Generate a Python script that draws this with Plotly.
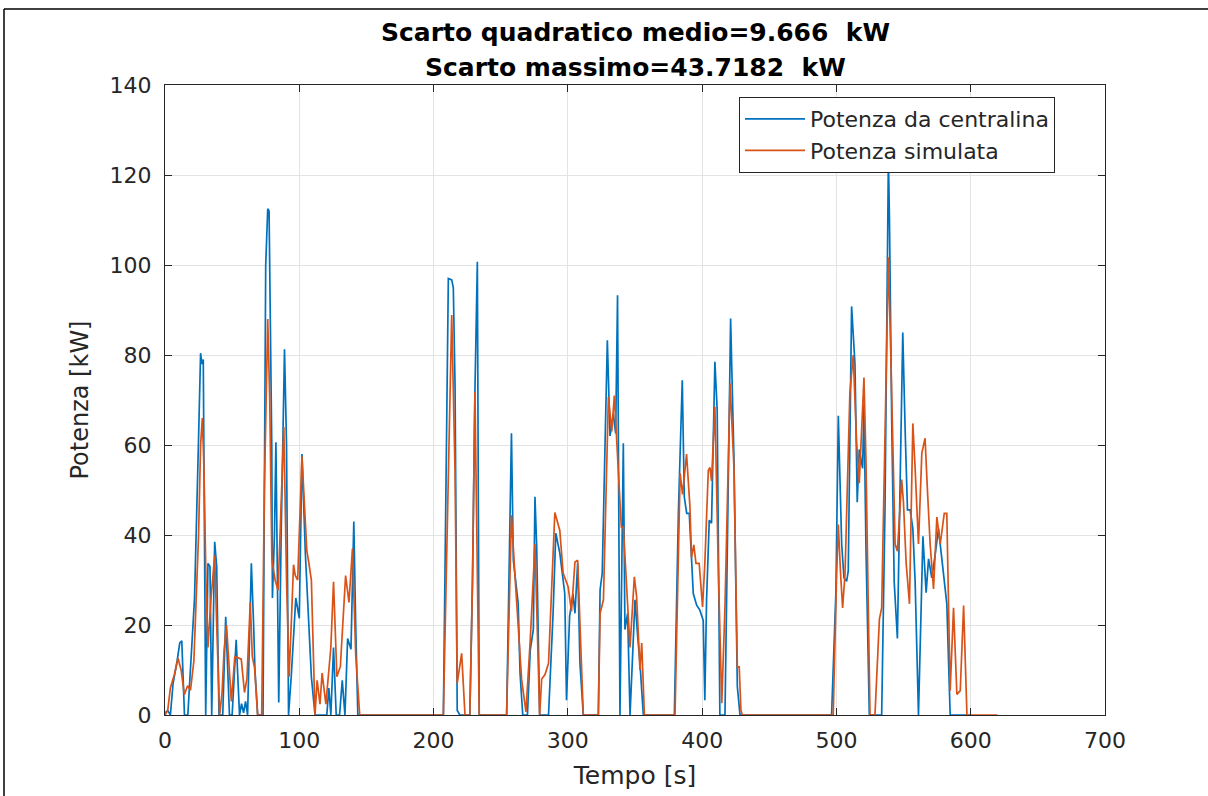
import plotly.graph_objects as go

# Potenza da centralina (blue) - time [s], power [kW]
t_centralina = [0, 2, 4, 6, 9, 11, 12.5, 14.5, 17, 22, 25, 26.5, 27.5, 28.5, 30.3, 32, 33.5, 34.8, 37, 38.5,
                40.2, 43, 45.2, 48, 50, 53, 55.5, 57, 58.5, 60, 61.5, 64.3, 66, 67, 69, 73, 75, 76.5, 77.5, 79.5,
                80, 81.5, 82.6, 84.7, 86.5, 89, 90.5, 92, 94, 96, 97.4, 100, 102, 104.5, 107, 109, 111.7, 120.5,
                122, 123.5, 125.5, 127.5, 130, 132, 134, 136, 138.5, 140.6, 142, 143.6, 207.3, 209.5, 211, 213.5,
                214.7, 216, 217.6, 219.6, 227, 229, 230.8, 232.6, 234, 254.4, 256.9, 258, 259.4, 263, 264.4, 266.4,
                269.9, 272, 274.3, 275.5, 276.8, 279, 285.6, 289, 291, 294, 297.7, 299, 301.3, 303.8, 305.3, 307.3,
                309, 311.5, 322.7, 324, 325.6, 329.4, 331.4, 333.8, 335.6, 337, 338.8, 341.3, 342.5, 344.5, 346.3,
                348.7, 350, 352, 353.7, 356.2, 379.3, 382.3, 385.2, 386.7, 388.5, 390.4, 393.4, 395.9, 398.3, 400.8,
                402, 403.3, 405.3, 407, 409.5, 411.2, 413.2, 417, 421.2, 423.7, 426.2, 428.2, 496.4, 499.6, 501.4,
                503.9, 505.6, 507.6, 508.8, 511.3, 512.5, 513.8, 515.5, 517, 519.5, 520.5, 522, 524.5, 533.7, 536.2,
                538.7, 539.5, 541.2, 543, 545.4, 547.4, 549.4, 551.2, 552.9, 554.9, 556.9, 558.6, 561.1, 564.4,
                566.8, 568.6, 571, 573.5, 576, 578.5, 582.2, 584.7, 600]
p_centralina = [0.5, 1, 0, 7, 12, 16, 16.5, 0, 0, 26, 61.5, 80.4, 78, 79, 0, 33.7, 33, 0, 38.5, 33,
                0, 0, 21.8, 0, 0, 16.7, 0, 2.5, 0.5, 3, 0, 33.7, 20, 10, 0, 0, 100, 112.5, 112, 60,
                26, 40, 60.6, 2.8, 40, 81.3, 60, 0, 8.5, 20, 26, 21.5, 58, 36, 22.3, 8.5, 0, 0,
                6, 0, 15, 0, 0, 7.7, 0, 17, 14.6, 43, 20, 0, 0, 60, 97, 96.7,
                95, 73, 1, 0, 0, 30, 72, 100.7, 0, 0, 39, 62.6, 34.4, 24.8, 9.3, 0,
                0, 14.4, 19, 48.5, 37.4, 0, 0, 22.6, 40.4, 36, 27, 3.3, 21.9, 27, 22.6, 33.7,
                11.5, 0, 0, 27.8, 31.5, 83.3, 62, 67, 62.6, 93.3, 0, 60.4, 19, 22.6, 0,
                18, 25.6, 17.4, 11.5, 0, 0, 44.8, 74.4, 48.5, 44.8, 44.8, 27, 24.4, 23.3, 21,
                3.3, 25.6, 43.3, 42.6, 78.5, 67.8, 0, 0, 88.1, 56.7, 6.3, 0, 0, 27.2, 66.5,
                38, 30.5, 29.7, 32, 90.8, 83.3, 78, 47.3, 59, 54.8, 69, 37.2, 0, 0, 46.4,
                124, 110, 64.8, 29.7, 17, 49.8, 85, 63, 45.6, 45.6, 41.4, 29.7, 0, 39.7,
                27.2, 34.7, 30.5, 35.5, 41.4, 34.7, 24.7, 0, 0]

# Potenza simulata (orange) - time [s], power [kW]
t_simulata = [0, 2, 4, 7, 9.7, 12, 14.4, 16.8, 19, 21.5, 25, 26.5, 27.8, 29, 30.5, 32, 34, 37, 38.5, 40.7,
              42.5, 44, 45.8, 47.5, 49.4, 52, 56.8, 59.2, 61, 63.5, 65, 66.7, 69, 72, 74, 76.5, 78, 79.6, 82,
              84.2, 86.5, 88.5, 90.5, 92.4, 94, 95.7, 97, 98.8, 102, 104, 105.6, 107, 109, 111.7, 113.3, 115.4,
              117, 119.8, 121.8, 123.5, 125.5, 128, 130.6, 134.5, 137, 139.6, 142, 145, 207.3, 210, 213.5, 216,
              217.6, 220.9, 223.4, 227, 229, 230.8, 234, 254.4, 258, 260.5, 265.6, 268.8, 272, 275.5, 279, 280.5,
              283, 285.6, 290.3, 294, 296.5, 300.2, 302.7, 305.3, 307.3, 311.5, 322.7, 324, 326.5, 330.2, 332.7,
              334.6, 337.8, 339.8, 341.3, 346.3, 349.5, 351.2, 353.7, 355, 357, 379.8, 383.6, 385.4, 388.4, 390.9,
              392.1, 393.8, 395.4, 397.8, 400.3, 402, 404.6, 405.8, 407, 409.5, 412, 414.6, 417, 420.8, 423.7,
              426.2, 427.6, 428.9, 430, 497.6, 500, 501.4, 503.1, 504.6, 506.4, 510, 512.5, 515, 517, 518.7,
              520.5, 522, 525, 528.7, 532, 533.7, 535.5, 538.7, 540.5, 543.7, 545.4, 548.6, 549.9, 551.9, 554.4,
              556.9, 558.6, 561.1, 563.6, 566, 567.8, 569.8, 572.3, 574.8, 577.3, 580.3, 582.2, 584.7, 587.2,
              589.7, 592.2, 594.7, 597.2, 620]
p_simulata = [0, 1, 6, 9, 12.6, 10, 4.5, 6.5, 5.5, 12, 40, 60, 66, 55, 30, 15, 25, 35.5, 20, 0,
              5, 14.4, 20, 12, 3, 13, 12.4, 5, 8, 25, 13, 10.5, 0, 0, 50, 88, 70, 34.5, 30,
              27.7, 45, 64, 30, 8.5, 20, 33.4, 31, 30, 57.5, 45, 36.5, 34, 30, 0, 7.7, 2.4,
              9.3, 2.4, 8.5, 15, 29.6, 8.5, 10.8, 31, 25, 37, 13.5, 0, 0, 40, 88.9, 53.7,
              7, 13.7, 0, 0, 30, 71.8, 0, 0, 44.4, 31.5, 7.8, 0.7, 16.7, 38, 0, 8,
              9, 11.5, 45, 41, 31.5, 28.5, 23, 34, 34.4, 0, 0, 22.6, 25.6, 70.7, 63,
              71, 52, 41.8, 41.8, 15, 30.7, 26.3, 10, 16, 0, 0, 53.7, 49, 58, 46.3,
              35, 37.8, 33.7, 33.7, 24, 33.7, 54.4, 55, 52, 68.5, 33, 2.6, 24, 73.7, 55,
              10.7, 10.7, 1, 0, 0, 29.7, 42.3, 31.4, 23.8, 31.4, 71.5, 80, 60.7, 51.5, 64.8,
              75, 56.5, 0, 0, 21.3, 23.8, 50.6, 101.7, 80, 38, 36.4, 52.3, 47.3, 33.9, 24.7,
              64.8, 54.8, 38, 58.2, 61.5, 49.8, 38, 28, 44, 38, 44.8, 44.8, 5.4, 23.8,
              4.6, 5.4, 24.3, 0, 0]

x_ticks = [0, 100, 200, 300, 400, 500, 600, 700]
y_ticks = [0, 20, 40, 60, 80, 100, 120, 140]

title_lines = ["Scarto quadratico medio=9.666  kW", "Scarto massimo=43.7182  kW"]

AX = "#262626"
GRID = "#e3e3e3"
FONT = "DejaVu Sans, Liberation Sans, Arial, sans-serif"

fig = go.Figure()
fig.add_trace(go.Scatter(x=t_centralina, y=p_centralina, mode="lines",
                         name="Potenza da centralina",
                         line=dict(color="#0072BD", width=1.7)))
fig.add_trace(go.Scatter(x=t_simulata, y=p_simulata, mode="lines",
                         name="Potenza simulata",
                         line=dict(color="#D95319", width=1.7)))

fig.update_layout(
    width=1208, height=796,
    margin=dict(l=165, r=103, t=85, b=81),
    paper_bgcolor="white", plot_bgcolor="white",
    font=dict(family=FONT, color=AX),
    showlegend=True,
    legend=dict(x=(739 - 165) / 940, y=(715 - 97) / 630, xanchor="left", yanchor="top",
                bgcolor="white", bordercolor=AX, borderwidth=1,
                font=dict(family=FONT, size=22, color=AX),
                tracegroupgap=0, itemwidth=60),
    xaxis=dict(range=[0, 700], tickvals=x_ticks, ticktext=[str(v) for v in x_ticks],
               showgrid=True, gridcolor=GRID, gridwidth=1,
               showline=True, linecolor=AX, linewidth=1, mirror="ticks",
               ticks="inside", ticklen=7, tickcolor=AX, zeroline=False,
               tickfont=dict(size=22, color=AX), ticklabelstandoff=6,
               title=dict(text="Tempo [s]", font=dict(size=25, color=AX), standoff=14)),
    yaxis=dict(range=[0, 140], tickvals=y_ticks, ticktext=[str(v) for v in y_ticks],
               showgrid=True, gridcolor=GRID, gridwidth=1,
               showline=True, linecolor=AX, linewidth=1, mirror="ticks",
               ticks="inside", ticklen=7, tickcolor=AX, zeroline=False,
               tickfont=dict(size=22, color=AX), ticklabelstandoff=8,
               title=dict(text="Potenza [kW]", font=dict(size=24, color=AX), standoff=14)),
)

# two-line bold title
for txt, ypix in zip(title_lines, [32, 67]):
    fig.add_annotation(text="<b>" + txt + "</b>", xref="paper", yref="paper",
                       x=0.5, y=(715 - ypix) / 630, xanchor="center", yanchor="middle",
                       showarrow=False,
                       font=dict(family=FONT, size=25, color="#000000"))

# outer frame of the original figure (left and top edges)
fx0 = (4 - 165) / 940
fy1 = (715 - 9) / 630
fig.add_shape(type="line", xref="paper", yref="paper", x0=fx0, x1=fx0, y0=-0.2, y1=fy1,
              line=dict(color="#000000", width=1.5))
fig.add_shape(type="line", xref="paper", yref="paper", x0=fx0, x1=1.2, y0=fy1, y1=fy1,
              line=dict(color="#000000", width=1.5))

fig.write_html("out.html")
